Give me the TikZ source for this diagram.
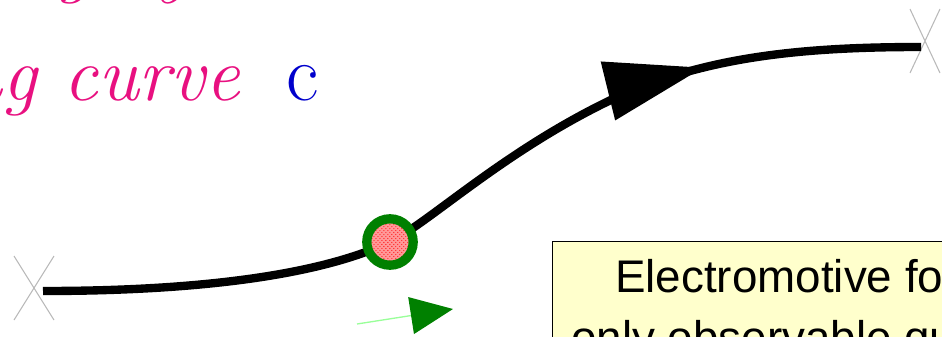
\documentclass[tikz,border=0pt]{standalone}
\usepackage{fontspec}
\newfontfamily\notefont{Liberation Sans}
\usepackage{tikz}
\usetikzlibrary{calc, arrows.meta, patterns, decorations.markings}
\definecolor{slidepink}{RGB}{232,16,128}
\definecolor{slideblue}{RGB}{0,0,204}
\definecolor{noteyellow}{RGB}{255,255,204}
\definecolor{pathgreen}{RGB}{0,128,0}
\tikzstyle{charge}=[shape=circle, minimum size=35pt, inner sep=0, line width=7pt, draw=pathgreen, preaction={fill=red!40}, pattern=crosshatch dots, pattern color=red!85]
\tikzstyle{slidetext}=[inner sep=0, text=slidepink, font=\itshape\fontsize{58}{70}\selectfont]
\tikzstyle{notetext}=[inner sep=0, anchor=base west, font=\notefont\fontsize{34.5}{42}\selectfont]
\newcommand{\ECend}[3]{\draw[gray!55, line width=0.8pt] ($(#1)+(-#2,-#3)$)--($(#1)+(#2,#3)$) ($(#1)+(#2,-#3)$)--($(#1)+(-#2,#3)$);}

\begin{document}
\begin{tikzpicture}[x=0.0265cm, y=-0.0265cm]
\useasboundingbox (0,0) rectangle (942,336);
\clip (0,0) rectangle (942,336);
% ends of the curve
\coordinate (p0) at (43,291);
\coordinate (p1) at (390,242);
\coordinate (p2) at (615,98);
\coordinate (p3) at (921,47);
\coordinate (x0) at (34,288);
\coordinate (x1) at (925,41);
\ECend{x0}{20}{32}
\ECend{x1}{15}{32}
% the curve c
\draw[line width=6.3pt, postaction={decorate}, decoration={markings, mark=at position 0.765 with {\arrow{Triangle[length=74pt,width=44pt]}}}]
  (p0) .. controls (200,291) and (320,275) .. (p1)
  .. controls (430,222) and (505,150) .. (p2)
  .. controls (705,57) and (800,47) .. (p3);
\node[charge] (q) at (p1) {};
% velocity of the charge
\coordinate (v0) at (357,324);
\coordinate (v1) at (453,309);
\draw[green!40, line width=1pt, -{Triangle[length=32pt,width=28pt,color=pathgreen]}] (v0) -- (v1);
% title lines
\node[slidetext, anchor=base east] (t0) at (190,-12) {along by};
\node[slidetext, anchor=base east] (t1) at (240,100) {moving curve};
\node[inner sep=0, anchor=base west, text=slideblue, font=\fontsize{60}{72}\selectfont] (t2) at (286,100) {c};
% note box
\node[draw, line width=1.1pt, fill=noteyellow, anchor=north west, minimum width=11cm, minimum height=3.5cm] (note) at (552,241) {};
\node[notetext] (n1) at (615,292) {Electromotive force is the};
\node[notetext] (n2) at (571,353) {only observable quantity};
\end{tikzpicture}
\end{document}
